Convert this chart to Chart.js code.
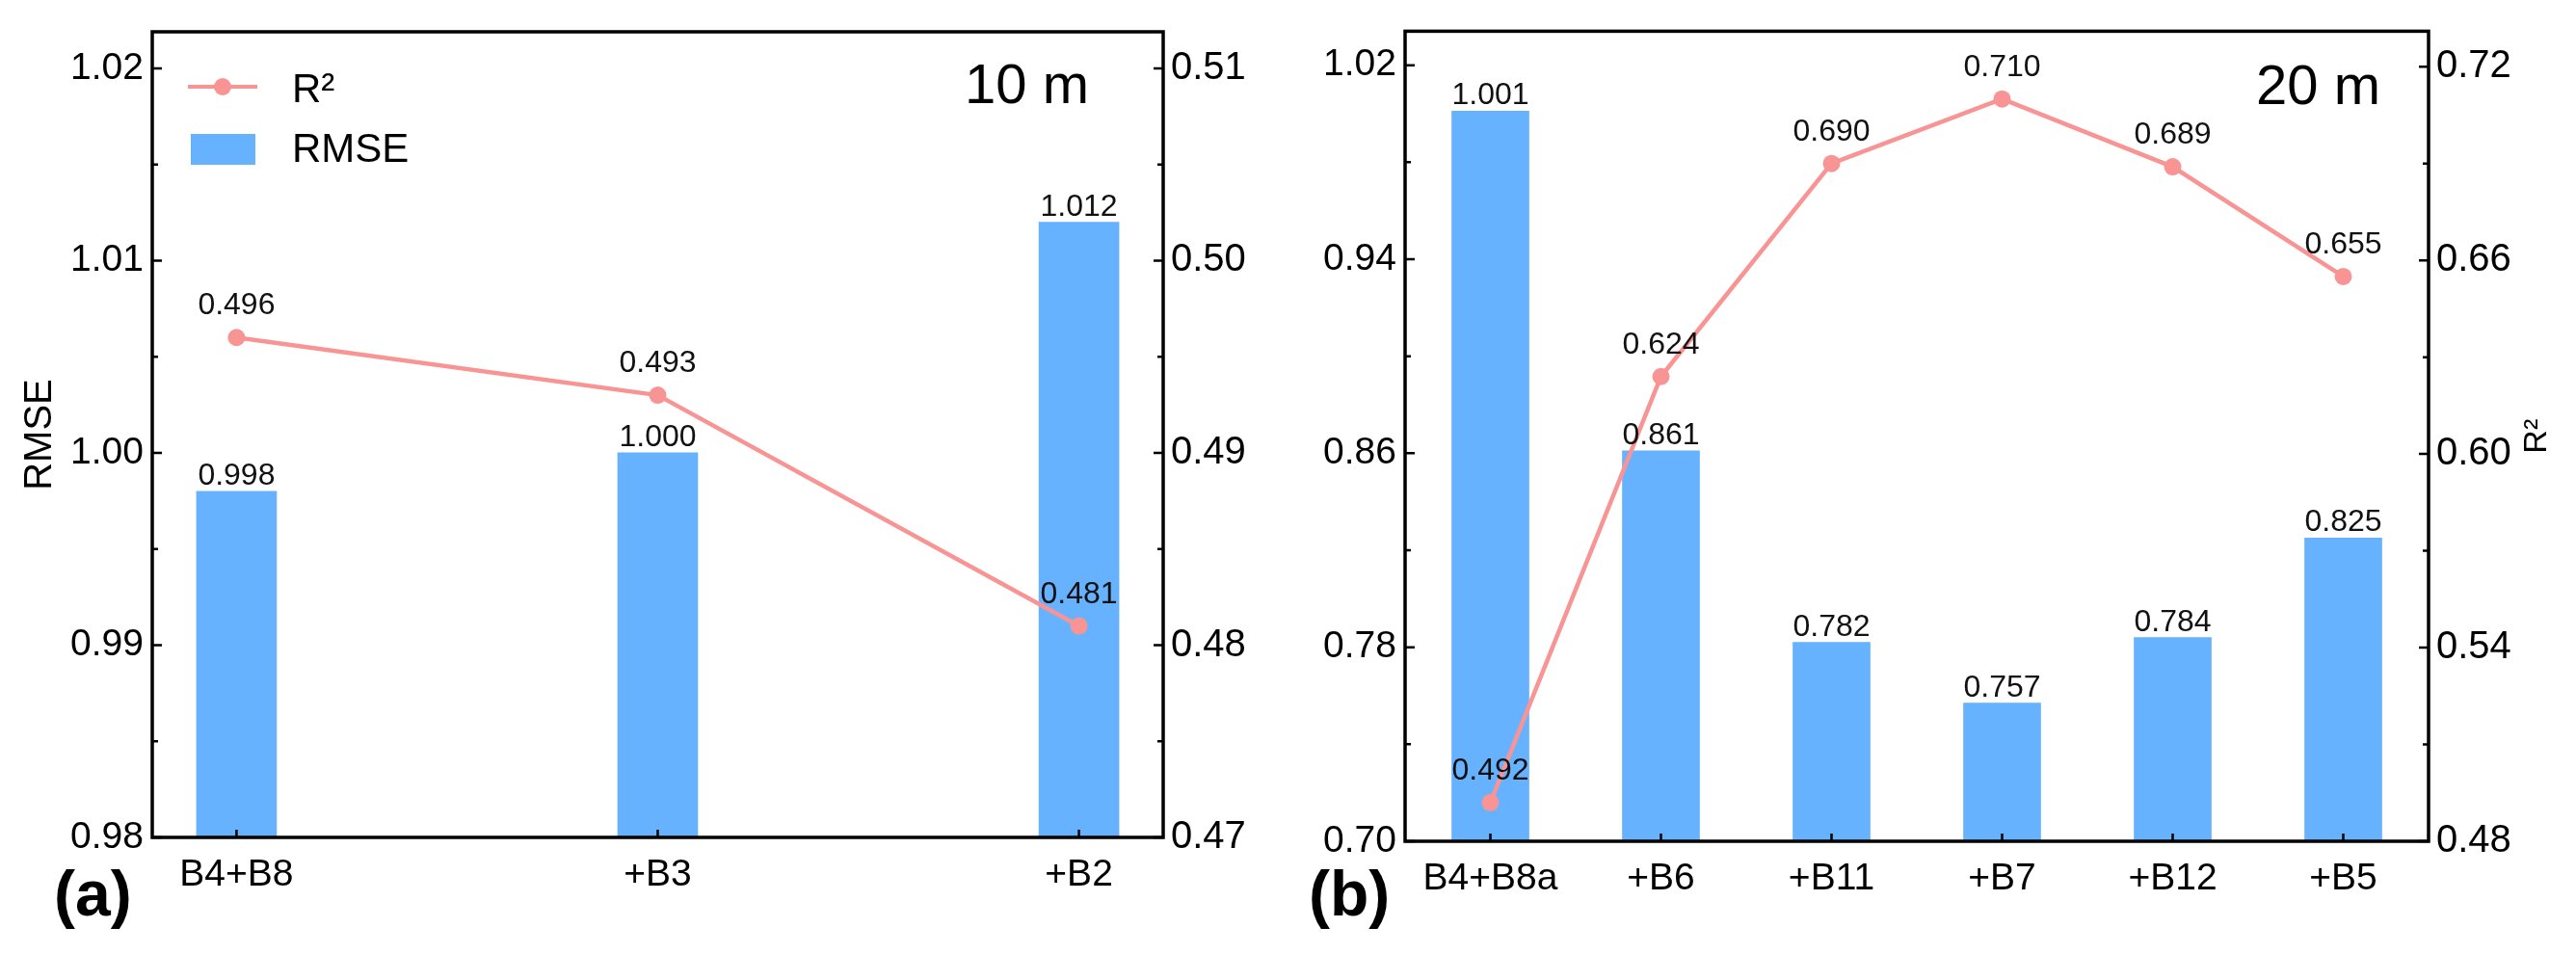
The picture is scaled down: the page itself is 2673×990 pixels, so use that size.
<!DOCTYPE html>
<html lang="en">
<head>
<meta charset="UTF-8">
<title>RMSE and R² by band combination</title>
<script src="https://cdn.jsdelivr.net/npm/chart.js"></script>
<style>
  body {
    margin: 0;
    background: #fff;
    width: 2673px;
    height: 990px;
    position: relative;
    overflow: hidden;
  }
  .panel { position: absolute; top: 0; }
  #chartA { left: 0; }
  #chartB { left: 1330px; }
</style>
</head>
<body>
<canvas id="chartA" class="panel" width="1330" height="990"></canvas>
<canvas id="chartB" class="panel" width="1343" height="990"></canvas>
<script>
// (a) 10 m bands
const bands10 = ['B4+B8', '+B3', '+B2'];
const rmse10 = [0.998, 1.000, 1.012];
const r2_10 = [0.496, 0.493, 0.481];
const rmseTicks10 = [0.98, 0.99, 1.00, 1.01, 1.02];
const r2Ticks10 = [0.47, 0.48, 0.49, 0.50, 0.51];

// (b) 20 m bands
const bands20 = ['B4+B8a', '+B6', '+B11', '+B7', '+B12', '+B5'];
const rmse20 = [1.001, 0.861, 0.782, 0.757, 0.784, 0.825];
const r2_20 = [0.492, 0.624, 0.690, 0.710, 0.689, 0.655];
const rmseTicks20 = [0.70, 0.78, 0.86, 0.94, 1.02];
const r2Ticks20 = [0.48, 0.54, 0.60, 0.66, 0.72];

const BAR_COLOR = '#66b2ff';
const LINE_COLOR = '#f99494';
const FONT = "'Liberation Sans', Arial, sans-serif";

Chart.defaults.font.family = FONT;
Chart.defaults.color = '#000';

// box round the plot area + inward major/minor ticks
const frame = {
  id: 'frame',
  afterDatasetsDraw(chart) {
    const { ctx, chartArea: a, scales } = chart;
    ctx.save();
    ctx.strokeStyle = '#000';
    ctx.lineWidth = 3.5;
    ctx.strokeRect(a.left, a.top, a.right - a.left, a.bottom - a.top);
    ctx.lineWidth = 2.5;
    ctx.beginPath();
    const yTicks = (scale, x, dir) => {
      const vals = scale.ticks.map(t => t.value);
      vals.forEach((v, i) => {
        const y = scale.getPixelForValue(v);
        ctx.moveTo(x, y);
        ctx.lineTo(x + dir * 10, y);
        if (i < vals.length - 1) {
          const m = scale.getPixelForValue((v + vals[i + 1]) / 2);
          ctx.moveTo(x, m);
          ctx.lineTo(x + dir * 6, m);
        }
      });
    };
    yTicks(scales.y, a.left, 1);
    yTicks(scales.y1, a.right, -1);
    scales.x.ticks.forEach(t => {
      const x = scales.x.getPixelForValue(t.value);
      ctx.moveTo(x, a.bottom);
      ctx.lineTo(x, a.bottom - 8);
    });
    ctx.stroke();
    ctx.restore();
  }
};

// numbers above bars and points
const valueLabels = {
  id: 'valueLabels',
  afterDatasetsDraw(chart) {
    const ctx = chart.ctx;
    ctx.save();
    ctx.font = '32px ' + FONT;
    ctx.fillStyle = '#111';
    ctx.textAlign = 'center';
    ctx.textBaseline = 'alphabetic';
    chart.data.datasets.forEach((ds, i) => {
      const gap = ds.type === 'line' ? 24 : 7;
      chart.getDatasetMeta(i).data.forEach((el, j) => {
        ctx.fillText(ds.data[j].y.toFixed(3), el.x, el.y - gap);
      });
    });
    ctx.restore();
  }
};

// panel tag, resolution note, R² axis title, legend
const panelText = {
  id: 'panelText',
  afterDraw(chart, args, opts) {
    const { ctx, chartArea: a } = chart;
    ctx.save();
    ctx.fillStyle = '#000';
    ctx.textBaseline = 'alphabetic';

    ctx.font = 'bold 66px ' + FONT;
    ctx.textAlign = 'left';
    ctx.fillText(opts.tag, opts.tagX, 950);

    ctx.font = '58px ' + FONT;
    ctx.textAlign = 'right';
    ctx.fillText(opts.res, a.right - opts.resRight, a.top + opts.resDown);

    if (opts.r2Title) {
      ctx.save();
      ctx.translate(a.right + 113, (a.top + a.bottom) / 2);
      ctx.rotate(-Math.PI / 2);
      ctx.font = '34px ' + FONT;
      ctx.textAlign = 'center';
      ctx.textBaseline = 'middle';
      ctx.fillText('R²', 0, 0);
      ctx.restore();
    }

    if (opts.legend) {
      const line = chart.data.datasets[0];
      const bar = chart.data.datasets[1];
      const x0 = a.left + 37;
      ctx.strokeStyle = line.borderColor;
      ctx.lineWidth = 4;
      ctx.beginPath();
      ctx.moveTo(x0, a.top + 57);
      ctx.lineTo(x0 + 72, a.top + 57);
      ctx.stroke();
      ctx.fillStyle = line.pointBackgroundColor;
      ctx.beginPath();
      ctx.arc(x0 + 36, a.top + 57, 9, 0, Math.PI * 2);
      ctx.fill();
      ctx.fillStyle = bar.backgroundColor;
      ctx.fillRect(x0 + 3, a.top + 106, 67, 32);

      ctx.fillStyle = '#000';
      ctx.font = '42px ' + FONT;
      ctx.textAlign = 'left';
      ctx.textBaseline = 'middle';
      ctx.fillText(line.label, a.left + 145, a.top + 61);
      ctx.fillText(bar.label, a.left + 145, a.top + 123);
    }
    ctx.restore();
  }
};

function fixedTicks(values) {
  return scale => { scale.ticks = values.map(v => ({ value: v })); };
}

function makePanel(id, p) {
  const points = vals => vals.map((v, i) => ({ x: i, y: v }));
  return new Chart(document.getElementById(id), {
    type: 'bar',
    data: {
      datasets: [
        {
          type: 'line',
          label: 'R²',
          data: points(p.r2),
          yAxisID: 'y1',
          borderColor: LINE_COLOR,
          borderWidth: 4.5,
          pointRadius: p.pointRadius,
          pointBackgroundColor: LINE_COLOR,
          pointBorderWidth: 0,
          tension: 0,
          order: 0
        },
        {
          type: 'bar',
          label: 'RMSE',
          data: points(p.rmse),
          yAxisID: 'y',
          backgroundColor: BAR_COLOR,
          barThickness: p.barWidth,
          order: 1
        }
      ]
    },
    options: {
      responsive: false,
      animation: false,
      layout: { padding: { top: p.top, left: 0, right: 0, bottom: 0 } },
      plugins: {
        legend: { display: false },
        tooltip: { enabled: false },
        panelText: p.text
      },
      scales: {
        x: {
          type: 'linear',
          offset: false,
          min: p.xMin,
          max: p.xMax,
          afterBuildTicks: fixedTicks(p.bands.map((_, i) => i)),
          afterFit: s => { s.height = p.xHeight; },
          grid: { display: false, drawTicks: false, tickLength: 0 },
          border: { display: false },
          ticks: {
            autoSkip: false,
            maxRotation: 0,
            padding: 16,
            font: { size: 39 },
            callback: (v, i) => p.bands[i]
          }
        },
        y: {
          position: 'left',
          min: p.yMin,
          max: p.yMax,
          afterBuildTicks: fixedTicks(p.yTicks),
          afterFit: s => { s.width = p.leftWidth; },
          grid: { display: false, drawTicks: false, tickLength: 0 },
          border: { display: false },
          title: {
            display: p.rmseTitle,
            text: 'RMSE',
            font: { size: 40 },
            padding: { top: 18, bottom: 0 }
          },
          ticks: { padding: 9, font: { size: 39 }, callback: v => v.toFixed(2) }
        },
        y1: {
          position: 'right',
          min: p.y1Min,
          max: p.y1Max,
          afterBuildTicks: fixedTicks(p.y1Ticks),
          afterFit: s => { s.width = p.rightWidth; },
          grid: { display: false, drawTicks: false, tickLength: 0 },
          border: { display: false },
          ticks: { padding: 8, font: { size: 40 }, callback: v => v.toFixed(2) }
        }
      }
    },
    plugins: [frame, valueLabels, panelText]
  });
}

makePanel('chartA', {
  bands: bands10, rmse: rmse10, r2: r2_10,
  yTicks: rmseTicks10, y1Ticks: r2Ticks10,
  yMin: 0.98, yMax: 1.0219, y1Min: 0.47, y1Max: 0.5119,
  xMin: -0.2, xMax: 2.2,
  top: 33, leftWidth: 158, rightWidth: 123, xHeight: 121,
  barWidth: 83, pointRadius: 9, rmseTitle: true,
  text: { tag: '(a)', tagX: 56, res: '10 m', resRight: 77, resDown: 74, legend: true, r2Title: false }
});

makePanel('chartB', {
  bands: bands20, rmse: rmse20, r2: r2_20,
  yTicks: rmseTicks20, y1Ticks: r2Ticks20,
  yMin: 0.70, yMax: 1.034, y1Min: 0.48, y1Max: 0.731,
  xMin: -0.5, xMax: 5.5,
  top: 29, leftWidth: 128, rightWidth: 153, xHeight: 117,
  barWidth: 80, pointRadius: 9, rmseTitle: false,
  text: { tag: '(b)', tagX: 28, res: '20 m', resRight: 50, resDown: 76, legend: false, r2Title: true }
});
</script>
</body>
</html>
